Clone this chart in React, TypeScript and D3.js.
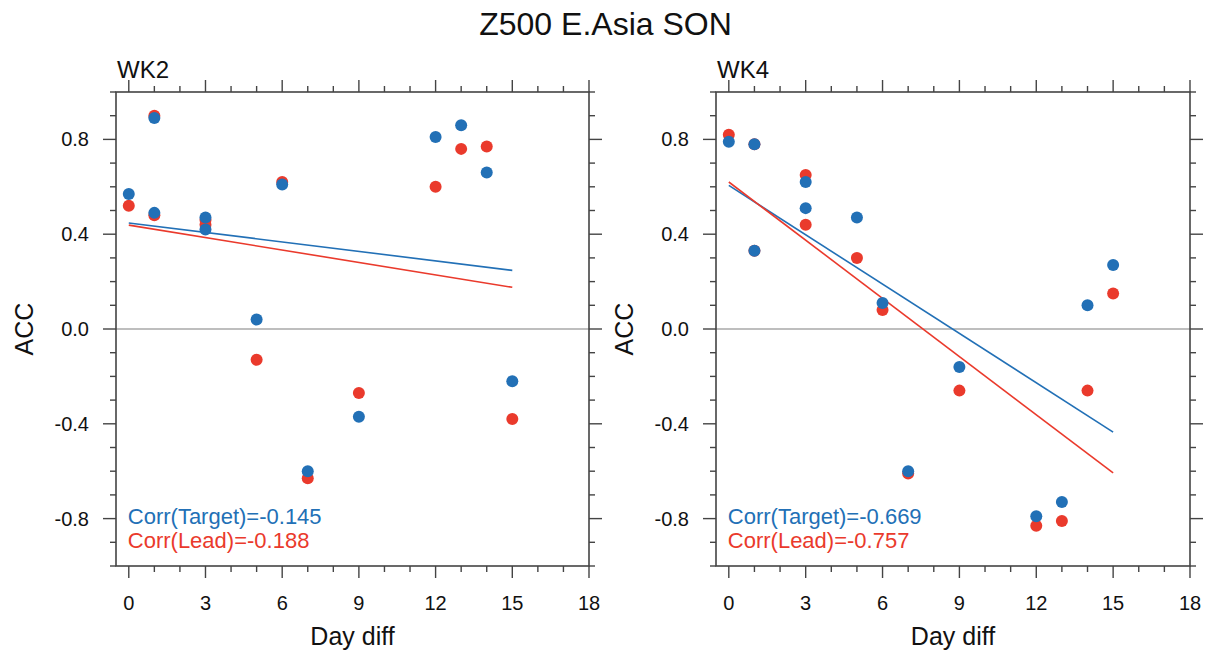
import React from "react";
import * as d3 from "d3";

// Day difference between target and lead for each case
const days = [0, 1, 1, 3, 3, 5, 6, 7, 9, 12, 13, 14, 15];

// Week-2 ACC values
const wk2Target = [0.57, 0.89, 0.49, 0.47, 0.42, 0.04, 0.61, -0.6, -0.37, 0.81, 0.86, 0.66, -0.22];
const wk2Lead = [0.52, 0.9, 0.48, 0.46, 0.44, -0.13, 0.62, -0.63, -0.27, 0.6, 0.76, 0.77, -0.38];

// Week-4 ACC values
const wk4Target = [0.79, 0.78, 0.33, 0.62, 0.51, 0.47, 0.11, -0.6, -0.16, -0.79, -0.73, 0.1, 0.27];
const wk4Lead = [0.82, 0.78, 0.33, 0.65, 0.44, 0.3, 0.08, -0.61, -0.26, -0.83, -0.81, -0.26, 0.15];

const xTicks = [0, 3, 6, 9, 12, 15, 18];
const yTicks = [-0.8, -0.4, 0, 0.4, 0.8];
const xMinorTicks = d3.range(0, 19, 1);
const yMinorTicks = d3.range(-10, 11, 1).map((v) => v / 10);

const panelTitles = ["WK2", "WK4"];
const corrTargetLabels = ["Corr(Target)=-0.145", "Corr(Target)=-0.669"];
const corrLeadLabels = ["Corr(Lead)=-0.188", "Corr(Lead)=-0.757"];

const W = 1211;
const H = 656;
const FONT = "'Liberation Sans', Arial, Helvetica, sans-serif";
const BLUE = "#2270b6";
const RED = "#ea3a2c";
const AXIS = "#444";

function fitLine(xs: number[], ys: number[]) {
  const mx = d3.mean(xs)!;
  const my = d3.mean(ys)!;
  let sxy = 0;
  let sxx = 0;
  xs.forEach((x, i) => {
    sxy += (x - mx) * (ys[i] - my);
    sxx += (x - mx) * (x - mx);
  });
  const b = sxy / sxx;
  const a = my - b * mx;
  const [x0, x1] = d3.extent(xs) as [number, number];
  return [
    [x0, a + b * x0],
    [x1, a + b * x1],
  ] as [number, number][];
}

function Panel({
  left,
  right,
  top,
  bottom,
  title,
  target,
  lead,
  corrTarget,
  corrLead,
}: {
  left: number;
  right: number;
  top: number;
  bottom: number;
  title: string;
  target: number[];
  lead: number[];
  corrTarget: string;
  corrLead: string;
}) {
  const x = d3.scaleLinear().domain([-0.5, 18]).range([left, right]);
  const y = d3.scaleLinear().domain([-1, 1]).range([bottom, top]);
  const line = d3
    .line<[number, number]>()
    .x((d) => x(d[0]))
    .y((d) => y(d[1]));
  const fmt = (v: number) => v.toFixed(1);
  const leadFit = fitLine(days, lead);
  const targetFit = fitLine(days, target);
  const cx = (left + right) / 2;
  const cy = (top + bottom) / 2;

  return (
    <g>
      {/* zero reference line */}
      <line x1={left} x2={right} y1={y(0)} y2={y(0)} stroke="#a8a8a8" strokeWidth={1.4} />

      {/* regression lines */}
      <path d={line(targetFit)!} fill="none" stroke={BLUE} strokeWidth={1.6} />
      <path d={line(leadFit)!} fill="none" stroke={RED} strokeWidth={1.6} />

      {/* scatter points: lead first, target on top */}
      {lead.map((v, i) => (
        <circle key={"l" + i} cx={x(days[i])} cy={y(v)} r={6} fill={RED} />
      ))}
      {target.map((v, i) => (
        <circle key={"t" + i} cx={x(days[i])} cy={y(v)} r={6} fill={BLUE} />
      ))}

      {/* frame */}
      <rect x={left} y={top} width={right - left} height={bottom - top} fill="none" stroke={AXIS} strokeWidth={1.6} />

      {/* x ticks on top and bottom, pointing outward */}
      {xMinorTicks.map((t) => {
        const major = t % 3 === 0;
        const len = major ? 12 : 6;
        return (
          <g key={"xt" + t}>
            <line x1={x(t)} x2={x(t)} y1={bottom} y2={bottom + len} stroke={AXIS} strokeWidth={1.4} />
            <line x1={x(t)} x2={x(t)} y1={top} y2={top - len} stroke={AXIS} strokeWidth={1.4} />
          </g>
        );
      })}
      {/* y ticks on left and right, pointing outward */}
      {yMinorTicks.map((t) => {
        const major = Math.abs(Math.round(t * 10)) % 4 === 0;
        const len = major ? 13 : 6;
        return (
          <g key={"yt" + t}>
            <line x1={left} x2={left - len} y1={y(t)} y2={y(t)} stroke={AXIS} strokeWidth={1.4} />
            <line x1={right} x2={right + len} y1={y(t)} y2={y(t)} stroke={AXIS} strokeWidth={1.4} />
          </g>
        );
      })}

      {/* tick labels */}
      {xTicks.map((t) => (
        <text key={"xl" + t} x={x(t)} y={bottom + 44} textAnchor="middle" fontSize={20} fill="#111">
          {t}
        </text>
      ))}
      {yTicks.map((t) => (
        <text key={"yl" + t} x={left - 27} y={y(t) + 7} textAnchor="end" fontSize={20} fill="#111">
          {fmt(t)}
        </text>
      ))}

      {/* axis titles */}
      <text x={cx} y={bottom + 79} textAnchor="middle" fontSize={25} fill="#111">
        Day diff
      </text>
      <text transform={`translate(${left - 83},${cy}) rotate(-90)`} textAnchor="middle" fontSize={25} fill="#111">
        ACC
      </text>

      {/* panel title */}
      <text x={left + 1} y={top - 14} fontSize={24} fill="#111">
        {title}
      </text>

      {/* correlation annotations */}
      <text x={x(0) - 1} y={y(-0.82) + 0.5} fontSize={22} fill={BLUE}>
        {corrTarget}
      </text>
      <text x={x(0) - 1} y={y(-0.92) + 0.5} fontSize={22} fill={RED}>
        {corrLead}
      </text>
    </g>
  );
}

export default function App() {
  const panels = [
    { left: 116, right: 589, target: wk2Target, lead: wk2Lead },
    { left: 716, right: 1190, target: wk4Target, lead: wk4Lead },
  ];
  return (
    <svg
      width={W}
      height={H}
      viewBox={`0 0 ${W} ${H}`}
      style={{ position: "absolute", left: 0, top: 0, background: "#fff" }}
      fontFamily={FONT}
    >
      <rect width={W} height={H} fill="#fff" />
      <text x={W / 2} y={35} textAnchor="middle" fontSize={32} fill="#111">
        Z500 E.Asia SON
      </text>
      {panels.map((p, i) => (
        <Panel
          key={i}
          left={p.left}
          right={p.right}
          top={92}
          bottom={566}
          title={panelTitles[i]}
          target={p.target}
          lead={p.lead}
          corrTarget={corrTargetLabels[i]}
          corrLead={corrLeadLabels[i]}
        />
      ))}
    </svg>
  );
}
